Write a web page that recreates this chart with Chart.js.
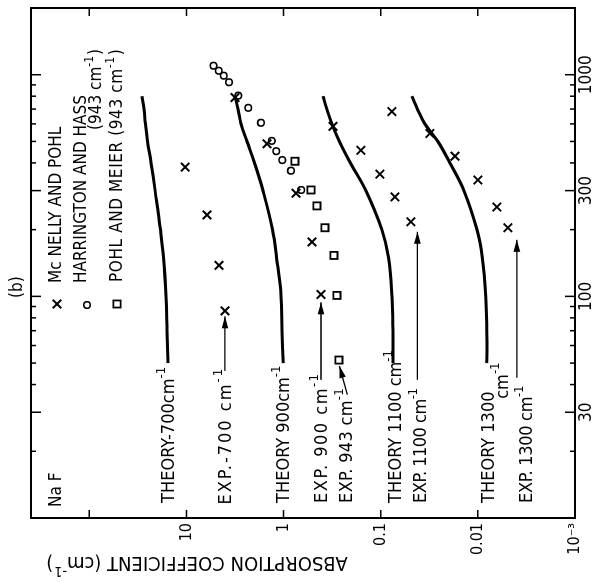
<!DOCTYPE html>
<html>
<head>
<meta charset="utf-8">
<script src="https://cdn.jsdelivr.net/npm/chart.js@4.4.1/dist/chart.umd.min.js"></script>
<style>
  html, body { margin: 0; padding: 0; background: #fff; overflow: hidden; }
  /* the figure is printed turned a quarter turn, so draw it upright and rotate */
  #wrap { position: absolute; left: 0; top: 0; width: 582px; height: 597px;
          transform-origin: 0 0; transform: translateY(582px) rotate(-90deg); }
</style>
</head>
<body>
<div id="wrap"><canvas id="chart" width="582" height="597"></canvas></div>
<script>
// temperature (K) is the x axis, absorption coefficient (cm^-1) the y axis
const theoryTemps = [50, 70, 100, 150, 200, 300, 400, 500, 600, 700, 800];
const theory700  = [15.5, 15.8, 16.2, 17.2, 18.5, 21.0, 23.1, 25.1, 26.4, 27.3, 28.6];
const theory900  = [1.01, 1.04, 1.06, 1.18, 1.30, 1.63, 1.99, 2.38, 2.74, 2.94, 3.16];
const theory1100 = [0.0749, 0.0749, 0.0767, 0.0833, 0.0972, 0.142, 0.205, 0.266, 0.318, 0.358, 0.393];
const theory1300 = [0.00808, 0.00808, 0.00827, 0.00899, 0.0102, 0.0139, 0.0194, 0.0258, 0.0351, 0.0419, 0.0478];

// McNelly and Pohl
const mcNelly700Temps = [86, 138, 233, 383];
const mcNelly700Abs   = [4.01, 4.62, 6.14, 10.3];
const mcNelly900Temps = [102, 176, 292, 488, 789];
const mcNelly900Abs   = [0.412, 0.510, 0.745, 1.48, 3.16];
const mcNelly1100Temps = [217, 281, 356, 456, 585, 682];
const mcNelly1100Abs   = [0.0489, 0.0714, 0.102, 0.160, 0.310, 0.0767];
const mcNelly1300Temps = [204, 253, 335, 429, 543];
const mcNelly1300Abs   = [0.00491, 0.00637, 0.0100, 0.0172, 0.0312];

// Harrington and Hass (943 cm-1)
const harringtonTemps = [302, 369, 412, 452, 503, 607, 709, 805, 925, 990, 1042, 1098];
const harringtonAbs   = [0.658, 0.839, 1.03, 1.19, 1.32, 1.71, 2.31, 2.92, 3.64, 4.13, 4.65, 5.26];

// Pohl and Meier (943 cm-1)
const pohlTemps = [51.6, 101, 153, 204, 256, 302, 407];
const pohlAbs   = [0.269, 0.282, 0.303, 0.375, 0.453, 0.522, 0.763];

// axes
const tempTicks  = [20, 30, 40, 50, 60, 70, 80, 90, 100, 200, 300, 400, 500, 600, 700, 800, 900, 1000];
const tempLabels = [30, 100, 300, 1000];
const absTicks   = [0.001, 0.01, 0.1, 1, 10, 100];
const absLabels  = ['10⁻³', '0.01', '0.1', '1', '10', ''];

const FONT = '"DejaVu Sans Condensed", "DejaVu Sans", sans-serif';

function pts(xs, ys) {
  return xs.map((x, i) => ({ x: x, y: ys[i] }));
}

function theory(values) {
  return {
    type: 'line', data: pts(theoryTemps, values), borderColor: '#000', borderWidth: 3,
    pointRadius: 0, tension: 0.4, fill: false
  };
}

function arrow(xs, ys) {
  return {
    type: 'line', data: pts(xs, ys), borderColor: '#000', borderWidth: 1.3,
    pointRadius: 0, fill: false, isArrow: true
  };
}

const crossStyle  = { pointStyle: 'crossRot', pointRadius: 6, borderWidth: 2, borderColor: '#000', backgroundColor: 'rgba(0,0,0,0)' };
const circleStyle = { pointStyle: 'circle', pointRadius: 3.3, borderWidth: 1.6, borderColor: '#000', backgroundColor: 'rgba(0,0,0,0)' };
const squareStyle = { pointStyle: 'rect', pointRadius: 5, borderWidth: 1.8, borderColor: '#000', backgroundColor: 'rgba(0,0,0,0)' };

// text labels next to the curves: [text, start temperature, absorption at middle of caps, letter spacing]
const curveLabels = [
  ['THEORY-700cm^-1', 11.7, 15.1, 0],
  ['EXP.-700 cm^-1', 11.5, 3.91, 2],
  ['THEORY 900cm^-1', 11.7, 0.991, 0],
  ['EXP. 900 cm^-1', 11.7, 0.403, 1.5],
  ['EXP. 943 cm^-1', 11.7, 0.2227, 0.3],
  ['THEORY 1100 cm^-1', 11.7, 0.0698, 0],
  ['EXP. 1100 cm^-1', 11.7, 0.0386, -0.5],
  ['THEORY 1300', 11.7, 0.0077, 0],
  ['cm^-1', 34.5, 0.00553, 0],
  ['EXP. 1300 cm^-1', 11.7, 0.00313, -0.3]
];

function drawRich(ctx, text, x, y, size, spacing) {
  const parts = text.split('^');
  let cx = x;
  ctx.textAlign = 'left';
  ctx.textBaseline = 'middle';
  ctx.letterSpacing = (spacing || 0) + 'px';
  parts.forEach((p, i) => {
    const sup = i % 2 === 1;
    const s = sup ? Math.round(size * 0.72) : size;
    ctx.font = s + 'px ' + FONT;
    ctx.fillText(p, cx, sup ? y - size * 0.42 : y);
    cx += ctx.measureText(p).width + (sup ? 1 : 0);
  });
  ctx.letterSpacing = '0px';
  return cx - x;
}

function richWidth(ctx, text, size) {
  ctx.save();
  ctx.globalAlpha = 0;
  const w = drawRich(ctx, text, 0, 0, size);
  ctx.restore();
  return w;
}

function marker(ctx, style, x, y) {
  ctx.save();
  ctx.strokeStyle = style.borderColor;
  ctx.fillStyle = style.backgroundColor;
  ctx.lineWidth = style.borderWidth;
  Chart.helpers.drawPoint(ctx, { pointStyle: style.pointStyle, radius: style.pointRadius, rotation: 0, borderWidth: style.borderWidth }, x, y);
  ctx.restore();
}

const framePlugin = {
  id: 'frame',
  afterDraw(chart) {
    const ctx = chart.ctx;
    const a = chart.chartArea;
    const xs = chart.scales.x, ys = chart.scales.y;
    ctx.save();
    ctx.strokeStyle = '#000';
    ctx.lineWidth = 2;
    ctx.strokeRect(a.left, a.top, a.right - a.left, a.bottom - a.top);
    ctx.lineWidth = 1.5;
    ctx.beginPath();
    tempTicks.forEach(t => {
      const px = xs.getPixelForValue(t);
      const len = tempLabels.includes(t) ? 10 : 5;
      ctx.moveTo(px, a.top); ctx.lineTo(px, a.top + len);
      ctx.moveTo(px, a.bottom); ctx.lineTo(px, a.bottom - len);
    });
    absTicks.forEach(v => {
      const py = ys.getPixelForValue(v);
      if (py <= a.top + 1 || py >= a.bottom - 1) return;
      ctx.moveTo(a.left, py); ctx.lineTo(a.left + 8, py);
      ctx.moveTo(a.right, py); ctx.lineTo(a.right - 8, py);
    });
    ctx.stroke();
    ctx.restore();
  }
};

const notesPlugin = {
  id: 'notes',
  afterDatasetsDraw(chart) {
    const ctx = chart.ctx;
    const xs = chart.scales.x, ys = chart.scales.y;
    ctx.save();
    ctx.fillStyle = '#000';

    // arrow heads
    chart.data.datasets.forEach((ds, i) => {
      if (!ds.isArrow) return;
      const d = chart.getDatasetMeta(i).data;
      const p1 = d[d.length - 1], p0 = d[d.length - 2];
      const ang = Math.atan2(p1.y - p0.y, p1.x - p0.x);
      ctx.save();
      ctx.translate(p1.x, p1.y);
      ctx.rotate(ang);
      ctx.beginPath();
      ctx.moveTo(0, 0); ctx.lineTo(-12, -3.3); ctx.lineTo(-12, 3.3); ctx.closePath();
      ctx.fill();
      ctx.restore();
    });

    curveLabels.forEach(l => drawRich(ctx, l[0], xs.getPixelForValue(l[1]), ys.getPixelForValue(l[2]), 18, l[3]));

    // legend, (b) and NaF
    drawRich(ctx, '(b)', 284, 18, 17);
    marker(ctx, crossStyle, 278, 57);
    drawRich(ctx, 'Mc NELLY AND POHL', 299, 57, 17);
    marker(ctx, circleStyle, 277, 87);
    drawRich(ctx, 'HARRINGTON AND HASS', 299, 82, 17);
    drawRich(ctx, '(943 cm^-1^)', 452, 97, 17);
    marker(ctx, squareStyle, 278, 117);
    drawRich(ctx, 'POHL AND MEIER (943 cm^-1^)', 300, 118, 17, 0.6);
    drawRich(ctx, 'Na F', 75, 57, 17);

    // y axis title, printed along the axis
    ctx.translate(20, 197);
    ctx.rotate(-Math.PI / 2);
    const title = 'ABSORPTION COEFFICIENT (cm^-1^)';
    drawRich(ctx, title, -richWidth(ctx, title, 20) / 2, 0, 20);
    ctx.restore();
  }
};

const ctx = document.getElementById('chart').getContext('2d');

new Chart(ctx, {
  type: 'scatter',
  data: {
    datasets: [
      theory(theory700), theory(theory900), theory(theory1100), theory(theory1300),
      Object.assign({ data: pts(mcNelly700Temps, mcNelly700Abs) }, crossStyle),
      Object.assign({ data: pts(mcNelly900Temps, mcNelly900Abs) }, crossStyle),
      Object.assign({ data: pts(mcNelly1100Temps, mcNelly1100Abs) }, crossStyle),
      Object.assign({ data: pts(mcNelly1300Temps, mcNelly1300Abs) }, crossStyle),
      Object.assign({ data: pts(harringtonTemps, harringtonAbs) }, circleStyle),
      Object.assign({ data: pts(pohlTemps, pohlAbs) }, squareStyle),
      arrow([46.1, 81.3], [4.01, 4.01]),
      arrow([42, 94], [0.412, 0.412]),
      arrow([36.0, 48.5], [0.220, 0.266]),
      arrow([42, 195.6], [0.0419, 0.0419]),
      arrow([42.9, 180], [0.00397, 0.00397])
    ]
  },
  options: {
    responsive: false,
    animation: false,
    layout: { padding: { top: 31, right: 7, left: 0, bottom: 0 } },
    plugins: { legend: { display: false }, tooltip: { enabled: false } },
    scales: {
      x: {
        type: 'logarithmic', min: 10, max: 2000, position: 'bottom',
        grid: { display: false, drawTicks: false }, border: { display: false },
        afterBuildTicks: s => { s.ticks = tempTicks.map(v => ({ value: v })); },
        afterFit: s => { s.height = 22; },
        ticks: {
          autoSkip: false, maxRotation: 0, minRotation: 0, padding: 1, color: '#000',
          font: { family: FONT, size: 17 },
          callback: v => tempLabels.includes(v) ? String(v) : ''
        }
      },
      y: {
        type: 'logarithmic', min: 0.001, max: 398, position: 'left',
        grid: { display: false, drawTicks: false }, border: { display: false },
        afterBuildTicks: s => { s.ticks = absTicks.map(v => ({ value: v })); },
        afterFit: s => { s.width = 64; },
        ticks: {
          autoSkip: false, padding: 5, color: '#000',
          font: { family: FONT, size: 16 },
          callback: v => absLabels[absTicks.indexOf(v)]
        }
      }
    }
  },
  plugins: [framePlugin, notesPlugin]
});
</script>
</body>
</html>
